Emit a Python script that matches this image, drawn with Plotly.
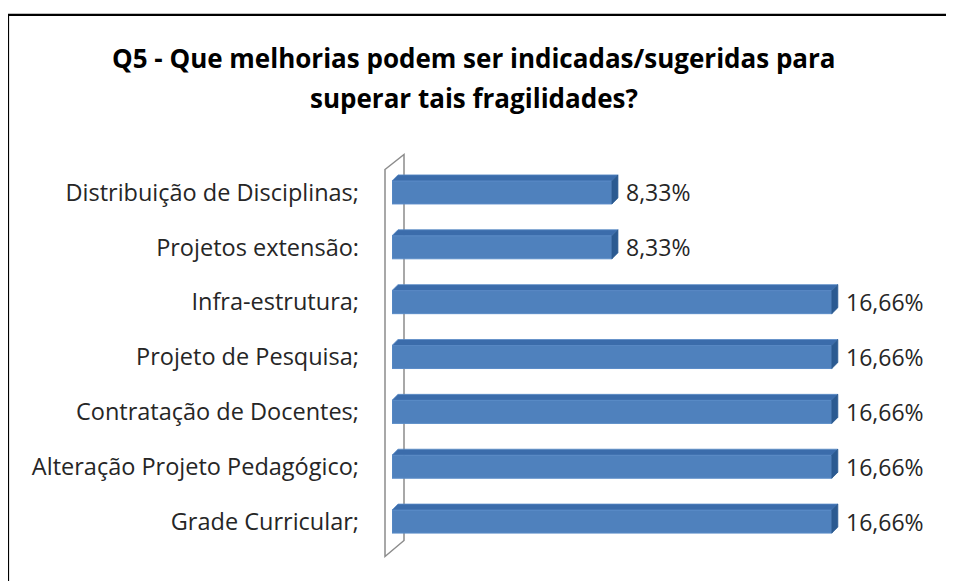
import plotly.graph_objects as go

categories = ["Grade Curricular;", "Alteração Projeto Pedagógico;", "Contratação de Docentes;",
              "Projeto de Pesquisa;", "Infra-estrutura;", "Projetos extensão:",
              "Distribuição de Disciplinas;"]
values = [16.66, 16.66, 16.66, 16.66, 16.66, 8.33, 8.33]
value_labels = ["16,66%", "16,66%", "16,66%", "16,66%", "16,66%", "8,33%", "8,33%"]
title_lines = ["Q5 - Que melhorias podem ser indicadas/sugeridas para",
               "superar tais fragilidades?"]

W, H = 954, 581
OFF = 8  # page offset of the figure inside the browser window
PL, PR, PT, PB = 392 - OFF, 920 - OFF, 164.5 - OFF, 549.5 - OFF
XMAX = 20.0
YMIN, YMAX = -0.5, len(categories) - 0.5
BAR_W = 0.42
FONT = "Open Sans"

def px_x(p):
    return (p - OFF - PL) / (PR - PL)

def px_y(p):
    return (PB - (p - OFF)) / (PB - PT)

x_per_px = XMAX / (PR - PL)
y_per_px = (YMAX - YMIN) / (PB - PT)
dx = 6 * x_per_px
dy = 6 * y_per_px

pos = list(range(len(categories)))

fig = go.Figure()
fig.add_trace(go.Bar(
    y=pos, x=values, orientation="h", width=BAR_W,
    marker=dict(color="#4F81BD", line=dict(color="#5b8cc8", width=1)),
    hoverinfo="skip", showlegend=False,
))

shapes = []
wall = (f"M {px_x(385)} {px_y(169)} L {px_x(404)} {px_y(154)} L {px_x(404)} {px_y(541)} "
        f"L {px_x(385)} {px_y(557)} Z")
shapes.append(dict(type="path", xref="paper", yref="paper", path=wall,
                   line=dict(color="#8c8c8c", width=1.5), fillcolor="rgba(255,255,255,0)",
                   layer="below"))
for yi, v in zip(pos, values):
    top = yi + BAR_W / 2
    bot = yi - BAR_W / 2
    shapes.append(dict(type="path", xref="x", yref="y",
                       path=f"M 0 {top} L {v} {top} L {v+dx} {top+dy} L {dx} {top+dy} Z",
                       fillcolor="#3b6cab", line=dict(color="#5a8bc6", width=0.8), layer="above"))
    shapes.append(dict(type="path", xref="x", yref="y",
                       path=f"M {v} {bot} L {v} {top} L {v+dx} {top+dy} L {v+dx} {bot+dy} Z",
                       fillcolor="#2b5a91", line=dict(color="#2b5a91", width=0.8), layer="above"))
shapes.append(dict(type="rect", xref="paper", yref="paper",
                   x0=px_x(8), y0=px_y(620), x1=px_x(1000), y1=px_y(14),
                   line=dict(color="black", width=2.2), fillcolor="rgba(0,0,0,0)", layer="below"))

annotations = []
for yi, v, t in zip(pos, values, value_labels):
    annotations.append(dict(x=v, y=yi, xref="x", yref="y", text=t, showarrow=False,
                            xanchor="left", yanchor="middle", xshift=12,
                            font=dict(family=FONT, size=23, color="#262626")))
for line, yc in zip(title_lines, [57, 97]):
    annotations.append(dict(x=px_x(474), y=px_y(yc), xref="paper", yref="paper",
                            text=f"<b>{line}</b>", showarrow=False, xanchor="center",
                            yanchor="middle",
                            font=dict(family=FONT, size=26, color="black")))

fig.update_layout(
    width=W, height=H,
    margin=dict(l=PL, r=W - PR, t=PT, b=H - PB, pad=0),
    paper_bgcolor="white", plot_bgcolor="white",
    xaxis=dict(range=[0, XMAX], visible=False, fixedrange=True),
    yaxis=dict(range=[YMIN, YMAX], tickvals=pos, ticktext=categories,
               showgrid=False, zeroline=False, showline=False, ticks="",
               ticklabelstandoff=32,
               tickfont=dict(family=FONT, size=23.5, color="#262626"), fixedrange=True),
    shapes=shapes, annotations=annotations,
    bargap=0.5,
)
fig.write_html("out.html", config={"displayModeBar": False})
